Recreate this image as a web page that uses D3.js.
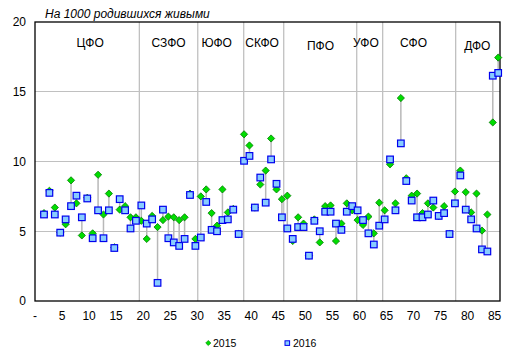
<!DOCTYPE html>
<html>
<head>
<meta charset="utf-8">
<script src="https://cdn.jsdelivr.net/npm/d3@7/dist/d3.min.js"></script>
<style>
  html, body { margin: 0; padding: 0; background: #fff; }
  svg { display: block; font-family: "Liberation Sans", Arial, sans-serif; }
</style>
</head>
<body>
<svg id="chart" width="516" height="361"></svg>
<script>
// ---- data ----
const regions = d3.range(1, 86); // region numbers 1..85
const values2015 = [
  6.3, 7.9, 6.7, 4.9, 5.5, 8.65, 7.0, 4.7, 7.4, 4.85,
  9.05, 6.2, 7.7, 3.85, 6.55, 6.8, 6.0, 6.0, 5.75, 4.45,
  6.1, 5.3, 5.8, 6.05, 6.0, 5.8, 6.0, 7.7, 4.45, 7.5,
  8.0, 6.3, 5.4, 8.0, 6.35, 6.6, 4.8, 11.95, 11.15, 6.7,
  8.35, 9.35, 11.65, 8.0, 7.3, 7.55, 4.3, 6.0, 5.55, 3.25,
  5.85, 4.2, 6.8, 6.85, 4.3, 5.55, 7.0, 6.5, 5.8, 5.45,
  6.05, 4.85, 7.05, 6.5, 9.8, 7.0, 14.55, 8.8, 7.55, 7.7,
  6.3, 7.0, 6.7, 6.1, 6.8, 4.8, 7.85, 9.35, 7.8, 6.35,
  7.7, 5.05, 6.2, 12.8, 17.45
];
const values2016 = [
  6.2, 7.75, 6.2, 4.9, 5.85, 6.8, 7.55, 6.0, 7.35, 4.5,
  6.5, 4.5, 6.5, 3.8, 7.3, 6.5, 5.2, 5.75, 6.85, 5.55,
  5.85, 1.3, 6.55, 4.5, 4.2, 3.95, 4.45, 7.6, 3.95, 4.55,
  7.1, 5.1, 5.0, 5.8, 5.85, 6.55, 4.8, 10.05, 10.4, 6.7,
  8.85, 7.05, 10.15, 8.4, 6.0, 5.2, 4.45, 5.3, 5.3, 3.25,
  5.75, 5.0, 6.4, 6.4, 5.55, 5.1, 6.4, 6.8, 6.5, 5.8,
  4.85, 4.05, 5.4, 5.85, 10.15, 6.5, 11.3, 8.6, 7.2, 6.0,
  6.0, 6.2, 7.2, 6.1, 6.3, 4.8, 7.0, 9.0, 6.55, 5.85,
  5.2, 3.7, 3.55, 16.15, 16.35
];
const districtNames = ["ЦФО", "СЗФО", "ЮФО", "СКФО", "ПФО", "УФО", "СФО", "ДФО"];
const districtLabelX = [10.2, 24.7, 33.6, 42.0, 52.8, 61.2, 70.0, 81.8];
const districtLabelLow = [false, false, false, false, true, false, false, true];
const separatorX = [19.3, 30.1, 38.6, 46.0, 59.5, 64.3, 77.8];
const xTicks = d3.range(0, 86, 5);
const yTicks = [0, 5, 10, 15, 20];
const seriesNames = ["2015", "2016"];
const titleText = "На 1000 родившихся живыми";

// ---- layout ----
const svg = d3.select("#chart");
const plotL = 35, plotR = 500, plotT = 22, plotB = 301;
const x = d3.scaleLinear().domain([0, 86]).range([plotL, plotR]);
const y = d3.scaleLinear().domain([0, 20]).range([plotB, plotT]);
const pointOffset = 0.665;
const px = i => x(i + pointOffset);

const grid = "#c0c0c0";

// horizontal gridlines
svg.append("g").selectAll("line").data(yTicks.filter(v => v > 0 && v < 20)).join("line")
  .attr("x1", plotL).attr("x2", plotR)
  .attr("y1", d => y(d)).attr("y2", d => y(d))
  .attr("stroke", grid).attr("stroke-width", 1).attr("shape-rendering", "crispEdges");

// separators
svg.append("g").selectAll("line").data(separatorX).join("line")
  .attr("x1", d => x(d)).attr("x2", d => x(d))
  .attr("y1", plotT).attr("y2", plotB)
  .attr("stroke", grid).attr("stroke-width", 1.3);

// plot border
svg.append("rect").attr("x", plotL).attr("y", plotT)
  .attr("width", plotR - plotL).attr("height", plotB - plotT)
  .attr("fill", "none").attr("stroke", "#000").attr("stroke-width", 1.3);

// y axis labels
svg.append("g").selectAll("text").data(yTicks).join("text")
  .attr("x", 26).attr("y", d => y(d)).attr("dy", "0.36em")
  .attr("text-anchor", "end").attr("font-size", 12).attr("fill", "#000")
  .text(d => d);

// x axis labels
svg.append("g").selectAll("text").data(xTicks).join("text")
  .attr("x", d => x(d)).attr("y", 320)
  .attr("text-anchor", "middle").attr("font-size", 12).attr("fill", "#000")
  .text(d => d === 0 ? "-" : d);

// title
svg.append("text").attr("x", 45).attr("y", 18)
  .attr("font-size", 12).attr("font-style", "italic").attr("fill", "#000")
  .text(titleText);

// district labels
svg.append("g").selectAll("text").data(districtNames).join("text")
  .attr("x", (d, i) => x(districtLabelX[i]))
  .attr("y", (d, i) => districtLabelLow[i] ? 49.5 : 47.3)
  .attr("text-anchor", "middle").attr("font-size", 12).attr("fill", "#000")
  .text(d => d);

// connecting lines
svg.append("g").selectAll("line").data(regions).join("line")
  .attr("x1", d => px(d)).attr("x2", d => px(d))
  .attr("y1", (d, i) => y(values2015[i])).attr("y2", (d, i) => y(values2016[i]))
  .attr("stroke", "#b8b8b8").attr("stroke-width", 1.5);

const diamond = (cx, cy, r) => `M${cx},${cy - r}L${cx + r},${cy}L${cx},${cy + r}L${cx - r},${cy}Z`;

// 2015 diamonds
svg.append("g").selectAll("path").data(regions).join("path")
  .attr("d", (d, i) => diamond(px(d), y(values2015[i]), 3.6))
  .attr("fill", "#00dd00").attr("stroke", "#007a00").attr("stroke-width", 0.8);

// 2016 squares
const sq = 6.6;
svg.append("g").selectAll("rect").data(regions).join("rect")
  .attr("x", d => px(d) - sq / 2).attr("y", (d, i) => y(values2016[i]) - sq / 2)
  .attr("width", sq).attr("height", sq)
  .attr("fill", "#88ccff").attr("stroke", "#0000ee").attr("stroke-width", 1.2);

// legend
const lg = svg.append("g").attr("font-size", 10.5).attr("fill", "#000");
lg.append("path").attr("d", diamond(208.3, 343, 2.6))
  .attr("fill", "#00dd00").attr("stroke", "#007a00").attr("stroke-width", 0.6);
lg.append("text").attr("x", 213).attr("y", 346.5).text(seriesNames[0]);
lg.append("rect").attr("x", 285).attr("y", 340.8).attr("width", 4.6).attr("height", 4.6)
  .attr("fill", "#88ccff").attr("stroke", "#0000ee").attr("stroke-width", 1);
lg.append("text").attr("x", 293).attr("y", 346.5).text(seriesNames[1]);
</script>
</body>
</html>
